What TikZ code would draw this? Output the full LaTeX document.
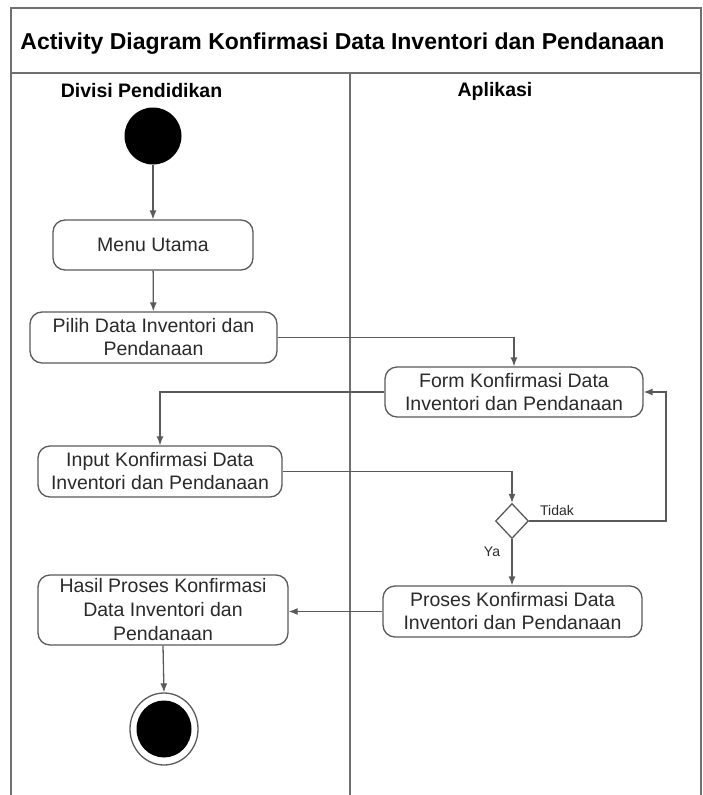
\documentclass[tikz,border=0pt]{standalone}
\usepackage{fontspec}
\setmainfont{Liberation Sans}
\usetikzlibrary{arrows.meta,shapes.geometric}

\definecolor{framegray}{HTML}{707070}
\definecolor{boxgray}{HTML}{5A5A5A}
\definecolor{inkgray}{HTML}{2A2A2A}

\tikzset{
  frameline/.style={draw=framegray, line width=2pt},
  action/.style={draw=boxgray, line width=1.3pt, rounded corners=12pt,
    align=center, inner sep=0pt, text=inkgray,
    font=\fontsize{19.5}{23}\selectfont},
  flow/.style={draw=boxgray, line width=1.3pt,
    -{Latex[length=9pt,width=7pt]}},
  guard/.style={text=inkgray, font=\fontsize{14}{16}\selectfont},
  header/.style={text=black, font=\bfseries\fontsize{19.5}{22}\selectfont},
}

\begin{document}
\begin{tikzpicture}[x=1pt, y=-1pt]
  \useasboundingbox (0,0) rectangle (702,795);
  \fill[white] (0,0) rectangle (702,795);

  % swimlane frame
  \draw[frameline] (11,795) -- (11,8) -- (701,8) -- (701,795);
  \draw[frameline] (11,73) -- (701,73);
  \draw[frameline] (349.5,73) -- (349.5,795);

  % title and lane headers
  \node[text=black, font=\bfseries\fontsize{23}{26}\selectfont] (title) at (342.5,44)
    {Activity Diagram Konfirmasi Data Inventori dan Pendanaan};
  \node[header] (laneA) at (141.5,91) {Divisi Pendidikan};
  \node[header] (laneB) at (495,91) {Aplikasi};

  % start and end
  \node[circle, fill=black, minimum size=57pt, inner sep=0pt] (start) at (153,136) {};
  \node[ellipse, draw=boxgray, line width=1.3pt, fill=white,
        minimum width=68pt, minimum height=72pt, inner sep=0pt] (end) at (164,729) {};
  \node[ellipse, fill=black, minimum width=55pt, minimum height=57pt, inner sep=0pt]
        (endcore) at (end.center) {};

  % actions
  \node[action, minimum width=200pt, minimum height=50pt] (menu) at (153,245) {Menu Utama};
  \node[action, minimum width=247pt, minimum height=51pt] (pilih) at (153.5,337.5)
    {Pilih Data Inventori dan\\Pendanaan};
  \node[action, minimum width=258pt, minimum height=50pt] (form) at (514,392)
    {Form Konfirmasi Data\\Inventori dan Pendanaan};
  \node[action, minimum width=244pt, minimum height=51pt] (input) at (160,471.5)
    {Input Konfirmasi Data\\Inventori dan Pendanaan};
  \node[diamond, draw=boxgray, line width=1.3pt, aspect=0.95,
        minimum width=33pt, minimum height=35pt, inner sep=0pt] (dec) at (512,521) {};
  \node[action, minimum width=259pt, minimum height=51pt] (proses) at (512.5,611.5)
    {Proses Konfirmasi Data\\Inventori dan Pendanaan};
  \node[action, minimum width=250pt, minimum height=70pt,
        font=\fontsize{19.5}{24}\selectfont] (hasil) at (163,610)
    {Hasil Proses Konfirmasi\\Data Inventori dan\\Pendanaan};

  % guards
  \node[guard] (tidak) at (557,510) {Tidak};
  \node[guard] (ya) at (492,552) {Ya};

  % control flow
  \coordinate (loop) at (666,521);
  \draw[flow] (start) -- (menu);
  \draw[flow] (menu) -- (pilih);
  \draw[flow] (pilih.east) -| (form.north);
  \draw[flow] (form.west) -| (input.north);
  \draw[flow] (input.east) -| (dec.north);
  \draw[flow] (dec.east) -- (loop) |- (form.east);
  \draw[flow] (dec.south) -- (proses.north -| dec.south);
  \draw[flow] (proses.west) -- (proses.west -| hasil.east);
  \draw[flow] (hasil.south) -- (end.north);
\end{tikzpicture}
\end{document}
